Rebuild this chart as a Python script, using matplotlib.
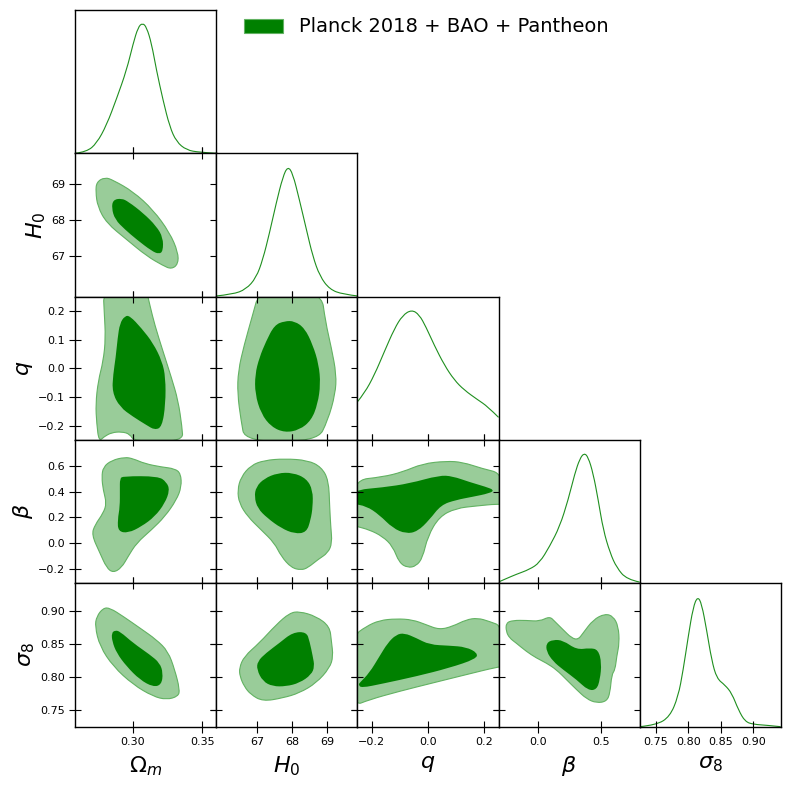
import matplotlib
matplotlib.use("Agg")
import matplotlib.pyplot as plt
from matplotlib.patches import Patch, PathPatch
from matplotlib.path import Path
from matplotlib.ticker import FuncFormatter

# ---------------- parameters ----------------
PARAM_LABELS = [r"$\Omega_m$", r"$H_0$", r"$q$", r"$\beta$", r"$\sigma_8$"]
PARAM_RANGES = [(0.259, 0.360), (65.85, 69.86), (-0.25, 0.25), (-0.316, 0.805), (0.7255, 0.942)]
X_TICKS = [[0.30, 0.35], [67, 68, 69], [-0.2, 0.0, 0.2], [0.0, 0.5], [0.75, 0.80, 0.85, 0.90]]
Y_TICKS = [[], [67, 68, 69], [-0.2, -0.1, 0.0, 0.1, 0.2], [-0.2, 0.0, 0.2, 0.4, 0.6],
           [0.75, 0.80, 0.85, 0.90]]
TICK_FMT = ["{:.2f}", "{:.0f}", "{:.1f}", "{:.1f}", "{:.2f}"]
LEGEND_LABEL = "Planck 2018 + BAO + Pantheon"

# ---------------- 1D marginals (value, normalised density) ----------------
OM_X = [0.259, 0.2672, 0.2743, 0.2814, 0.2886, 0.2957, 0.3004, 0.3040, 0.3071, 0.3100,
        0.3136, 0.3171, 0.3218, 0.3266, 0.3314, 0.3386, 0.3480, 0.360]
OM_P = [0.0, 0.012, 0.077, 0.217, 0.421, 0.638, 0.842, 0.969, 1.0, 0.969,
        0.842, 0.638, 0.408, 0.204, 0.089, 0.025, 0.008, 0.0]

H0_X = [65.83, 66.31, 66.69, 66.98, 67.17, 67.36, 67.55, 67.74, 67.88, 68.02,
        68.21, 68.41, 68.59, 68.79, 69.07, 69.45, 69.88]
H0_P = [0.005, 0.018, 0.056, 0.145, 0.285, 0.489, 0.718, 0.921, 1.0, 0.947,
        0.743, 0.514, 0.310, 0.157, 0.056, 0.018, 0.005]

Q_X = [-0.251, -0.225, -0.190, -0.155, -0.119, -0.090, -0.058, -0.031, -0.007, 0.022,
       0.058, 0.093, 0.128, 0.176, 0.211, 0.250]
Q_P = [0.291, 0.360, 0.499, 0.677, 0.855, 0.957, 1.0, 0.962, 0.867, 0.728,
       0.575, 0.461, 0.384, 0.309, 0.258, 0.174]

BETA_X = [-0.317, -0.256, -0.176, -0.070, 0.010, 0.090, 0.170, 0.237, 0.290, 0.330,
          0.364, 0.396, 0.436, 0.476, 0.516, 0.570, 0.623, 0.703, 0.805]
BETA_P = [0.010, 0.036, 0.069, 0.107, 0.158, 0.284, 0.436, 0.640, 0.843, 0.957,
          1.0, 0.970, 0.843, 0.640, 0.411, 0.234, 0.120, 0.030, 0.010]

S8_X = [0.7255, 0.7512, 0.7718, 0.7846, 0.7923, 0.8000, 0.8077, 0.8145, 0.8207, 0.8284,
        0.8361, 0.8439, 0.8566, 0.8670, 0.8772, 0.8875, 0.9003, 0.9210, 0.9420]
S8_P = [0.0, 0.013, 0.077, 0.230, 0.434, 0.689, 0.918, 1.0, 0.944, 0.740,
        0.510, 0.370, 0.319, 0.256, 0.128, 0.038, 0.018, 0.011, 0.0]

MARGINALS = [(OM_X, OM_P), (H0_X, H0_P), (Q_X, Q_P), (BETA_X, BETA_P), (S8_X, S8_P)]

# ---------------- 2D contours (95% outer, 68% inner) ----------------
OM_H0_95 = [(0.2743, 69.06), (0.2802, 69.19), (0.2861, 69.11), (0.3004, 68.79), (0.3147, 68.28),
            (0.3266, 67.64), (0.3326, 67.09), (0.3326, 66.76), (0.3278, 66.62), (0.3218, 66.72),
            (0.3100, 66.99), (0.2957, 67.45), (0.2814, 67.91), (0.2750, 68.37), (0.2736, 68.79)]
OM_H0_68 = [(0.2861, 68.56), (0.2921, 68.60), (0.2969, 68.51), (0.3076, 68.19), (0.3171, 67.82),
            (0.3218, 67.50), (0.3218, 67.13), (0.3190, 67.04), (0.3136, 67.13), (0.3029, 67.45),
            (0.2945, 67.73), (0.2874, 68.01), (0.2850, 68.33)]

OM_Q_95 = [(0.2790, 0.271), (0.2797, 0.197), (0.2807, 0.105), (0.2790, 0.025), (0.2754, -0.044),
           (0.2736, -0.124), (0.2743, -0.192), (0.2759, -0.255), (0.2797, -0.238), (0.2850, -0.224),
           (0.2921, -0.221), (0.2981, -0.229), (0.3011, -0.255), (0.3361, -0.255), (0.3354, -0.204),
           (0.3326, -0.112), (0.3278, -0.032), (0.3218, 0.059), (0.3159, 0.151), (0.3124, 0.220),
           (0.3100, 0.271)]
OM_Q_68 = [(0.2909, 0.157), (0.2945, 0.183), (0.2981, 0.183), (0.3064, 0.140), (0.3147, 0.088),
           (0.3211, 0.025), (0.3236, -0.032), (0.3236, -0.124), (0.3211, -0.204), (0.3159, -0.215),
           (0.3100, -0.198), (0.3004, -0.169), (0.2909, -0.135), (0.2854, -0.083), (0.2861, -0.021),
           (0.2879, 0.037), (0.2893, 0.105)]

H0_Q_95 = [(67.07, 0.271), (66.88, 0.186), (66.64, 0.082), (66.47, -0.009), (66.45, -0.089),
           (66.55, -0.181), (66.66, -0.255), (68.72, -0.255), (69.02, -0.181), (69.23, -0.089),
           (69.26, -0.021), (69.12, 0.071), (68.95, 0.163), (68.83, 0.271)]
H0_Q_68 = [(67.50, 0.151), (67.79, 0.165), (68.07, 0.165), (68.36, 0.140), (68.59, 0.082),
           (68.76, 0.014), (68.81, -0.055), (68.73, -0.124), (68.55, -0.181), (68.21, -0.215),
           (67.79, -0.224), (67.41, -0.204), (67.12, -0.158), (66.95, -0.089), (66.95, -0.021),
           (67.07, 0.037), (67.26, 0.094)]

OM_BETA_95 = [(0.2790, 0.594), (0.2850, 0.646), (0.2945, 0.671), (0.3004, 0.659), (0.3088, 0.620),
              (0.3207, 0.594), (0.3302, 0.581), (0.3345, 0.543), (0.3350, 0.439), (0.3314, 0.336),
              (0.3231, 0.206), (0.3136, 0.103), (0.3029, 0.000), (0.2969, -0.104), (0.2921, -0.194),
              (0.2861, -0.233), (0.2814, -0.194), (0.2766, -0.078), (0.2707, 0.064), (0.2731, 0.142),
              (0.2790, 0.233), (0.2814, 0.310), (0.2790, 0.413), (0.2779, 0.516)]
OM_BETA_68 = [(0.2909, 0.504), (0.2933, 0.522), (0.3183, 0.522), (0.3243, 0.477), (0.3266, 0.413),
              (0.3231, 0.310), (0.3159, 0.206), (0.3064, 0.129), (0.2969, 0.078), (0.2897, 0.090),
              (0.2893, 0.181), (0.2909, 0.284), (0.2909, 0.413)]

H0_BETA_95 = [(66.45, 0.413), (66.55, 0.516), (66.83, 0.607), (67.21, 0.646), (67.79, 0.659),
              (68.45, 0.646), (68.83, 0.594), (69.04, 0.491), (69.07, 0.284), (69.10, 0.129),
              (69.14, 0.000), (69.02, -0.078), (68.74, -0.129), (68.45, -0.194), (68.26, -0.212),
              (67.98, -0.194), (67.69, -0.104), (67.50, 0.000), (67.12, 0.103), (66.74, 0.206),
              (66.50, 0.310)]
H0_BETA_68 = [(66.98, 0.439), (67.21, 0.504), (67.59, 0.547), (68.02, 0.550), (68.41, 0.504),
              (68.59, 0.413), (68.59, 0.284), (68.53, 0.181), (68.41, 0.082), (68.07, 0.072),
              (67.69, 0.116), (67.30, 0.194), (67.02, 0.271), (66.93, 0.361)]

Q_BETA_95 = [(-0.267, 0.491), (-0.161, 0.516), (-0.090, 0.555), (-0.019, 0.620), (0.064, 0.640),
             (0.122, 0.632), (0.193, 0.581), (0.264, 0.543), (0.264, 0.297), (0.246, 0.305),
             (0.170, 0.289), (0.099, 0.271), (0.040, 0.206), (-0.001, 0.051), (-0.019, -0.116),
             (-0.042, -0.181), (-0.072, -0.194), (-0.102, -0.155), (-0.125, -0.026), (-0.161, 0.051),
             (-0.208, 0.103), (-0.253, 0.129), (-0.267, 0.142)]
Q_BETA_68 = [(-0.267, 0.413), (-0.161, 0.434), (-0.066, 0.465), (0.040, 0.529), (0.087, 0.522),
             (0.146, 0.477), (0.205, 0.439), (0.235, 0.413), (0.217, 0.388), (0.158, 0.361),
             (0.099, 0.336), (0.046, 0.297), (0.005, 0.181), (-0.037, 0.090), (-0.078, 0.072),
             (-0.125, 0.116), (-0.172, 0.219), (-0.219, 0.289), (-0.267, 0.305)]

OM_S8_95 = [(0.2743, 0.8921), (0.2790, 0.9048), (0.2838, 0.9048), (0.2933, 0.8921), (0.3052, 0.8746),
            (0.3171, 0.8569), (0.3254, 0.8393), (0.3302, 0.8116), (0.3338, 0.7814), (0.3326, 0.7713),
            (0.3243, 0.7663), (0.3147, 0.7713), (0.3004, 0.7890), (0.2861, 0.8166), (0.2766, 0.8468),
            (0.2731, 0.8770)]
OM_S8_68 = [(0.2850, 0.8670), (0.2874, 0.8710), (0.2909, 0.8695), (0.3004, 0.8519), (0.3124, 0.8343),
            (0.3195, 0.8217), (0.3218, 0.8066), (0.3207, 0.7890), (0.3147, 0.7855), (0.3052, 0.7965),
            (0.2957, 0.8166), (0.2886, 0.8368), (0.2854, 0.8544)]

H0_S8_95 = [(66.50, 0.8142), (66.64, 0.8317), (67.07, 0.8519), (67.55, 0.8796), (67.93, 0.8972),
            (68.21, 0.8997), (68.69, 0.8921), (69.07, 0.8770), (69.12, 0.8544), (69.17, 0.8317),
            (69.07, 0.8142), (68.69, 0.7915), (68.21, 0.7764), (67.74, 0.7689), (67.17, 0.7638),
            (66.83, 0.7739), (66.64, 0.7864), (66.52, 0.8015)]
H0_S8_68 = [(67.02, 0.8242), (67.26, 0.8368), (67.64, 0.8519), (68.02, 0.8680), (68.41, 0.8686),
            (68.50, 0.8544), (68.59, 0.8317), (68.64, 0.8166), (68.55, 0.8041), (68.21, 0.7915),
            (67.83, 0.7864), (67.45, 0.7864), (67.17, 0.7940), (67.00, 0.8116)]

Q_S8_95 = [(-0.267, 0.8620), (-0.219, 0.8770), (-0.172, 0.8861), (-0.113, 0.8886), (-0.055, 0.8871),
           (-0.007, 0.8796), (0.040, 0.8720), (0.087, 0.8770), (0.135, 0.8871), (0.176, 0.8897),
           (0.217, 0.8846), (0.264, 0.8770), (0.264, 0.8157), (0.246, 0.8157), (0.135, 0.8041),
           (0.016, 0.7915), (-0.102, 0.7789), (-0.208, 0.7663), (-0.267, 0.7562)]
Q_S8_68 = [(-0.243, 0.7915), (-0.208, 0.8066), (-0.172, 0.8317), (-0.143, 0.8519), (-0.113, 0.8645),
           (-0.084, 0.8670), (-0.042, 0.8595), (0.005, 0.8494), (0.075, 0.8479), (0.135, 0.8459),
           (0.176, 0.8368), (0.170, 0.8278), (0.075, 0.8142), (-0.042, 0.8015), (-0.161, 0.7905),
           (-0.237, 0.7840), (-0.246, 0.7890)]

BETA_S8_95 = [(-0.256, 0.8822), (-0.203, 0.8861), (-0.096, 0.8861), (0.010, 0.8846), (0.090, 0.8921),
              (0.130, 0.8846), (0.197, 0.8720), (0.264, 0.8595), (0.316, 0.8569), (0.356, 0.8670),
              (0.436, 0.8871), (0.530, 0.8962), (0.596, 0.8921), (0.636, 0.8770), (0.644, 0.8519),
              (0.623, 0.8317), (0.610, 0.8116), (0.583, 0.8041), (0.570, 0.7764), (0.543, 0.7638),
              (0.463, 0.7613), (0.384, 0.7674), (0.304, 0.7814), (0.224, 0.7965), (0.144, 0.8116),
              (0.064, 0.8217), (-0.016, 0.8293), (-0.096, 0.8393), (-0.176, 0.8519), (-0.229, 0.8595),
              (-0.256, 0.8695)]
BETA_S8_68 = [(0.064, 0.8519), (0.117, 0.8569), (0.197, 0.8559), (0.304, 0.8418), (0.410, 0.8444),
              (0.476, 0.8418), (0.503, 0.8217), (0.490, 0.7965), (0.463, 0.7814), (0.396, 0.7804),
              (0.304, 0.7965), (0.197, 0.8116), (0.117, 0.8242), (0.064, 0.8393)]

CONTOURS = {
    (1, 0): (OM_H0_95, OM_H0_68),
    (2, 0): (OM_Q_95, OM_Q_68), (2, 1): (H0_Q_95, H0_Q_68),
    (3, 0): (OM_BETA_95, OM_BETA_68), (3, 1): (H0_BETA_95, H0_BETA_68), (3, 2): (Q_BETA_95, Q_BETA_68),
    (4, 0): (OM_S8_95, OM_S8_68), (4, 1): (H0_S8_95, H0_S8_68), (4, 2): (Q_S8_95, Q_S8_68),
    (4, 3): (BETA_S8_95, BETA_S8_68),
}

# ---------------- styling ----------------
DARK = "#008000"
LIGHT = "#99cc99"
EDGE = "#62b262"
LINE = "#1f8f1f"


def _mid(a, b):
    return ((a[0] + b[0]) / 2.0, (a[1] + b[1]) / 2.0)


def smooth_closed_path(pts):
    """Closed quadratic-Bezier path using the read points as control points."""
    m = len(pts)
    verts = [_mid(pts[-1], pts[0])]
    codes = [Path.MOVETO]
    for k in range(m):
        verts += [pts[k], _mid(pts[k], pts[(k + 1) % m])]
        codes += [Path.CURVE3, Path.CURVE3]
    verts.append(verts[0])
    codes.append(Path.CLOSEPOLY)
    return Path(verts, codes)


def smooth_open_path(xs, ys):
    pts = list(zip(xs, ys))
    verts = [pts[0]]
    codes = [Path.MOVETO]
    for k in range(1, len(pts) - 1):
        end = pts[-1] if k == len(pts) - 2 else _mid(pts[k], pts[k + 1])
        verts += [pts[k], end]
        codes += [Path.CURVE3, Path.CURVE3]
    return Path(verts, codes)


fig = plt.figure(figsize=(7.9, 7.9), dpi=100)
gs = fig.add_gridspec(5, 5, left=0.09532, right=0.98823, bottom=0.08013, top=0.98734,
                      wspace=0, hspace=0)
n = 5


def fmt_for(k):
    f = TICK_FMT[k]
    return FuncFormatter(lambda v, pos: f.format(v).replace("-", "\u2212"))


for i in range(n):
    for j in range(i + 1):
        ax = fig.add_subplot(gs[i, j])
        ax.set_xlim(*PARAM_RANGES[j])
        ax.set_xticks(X_TICKS[j])
        ax.xaxis.set_major_formatter(fmt_for(j))
        if i == j:
            xs, ps = MARGINALS[i]
            ax.add_patch(PathPatch(smooth_open_path(xs, ps), facecolor="none",
                                   edgecolor=LINE, lw=0.8))
            ax.set_ylim(0, 1.1)
            ax.set_yticks([])
            ax.tick_params(axis="x", direction="inout", length=8, width=0.8,
                           top=False, bottom=True, labelsize=8)
        else:
            outer, inner = CONTOURS[(i, j)]
            ax.add_patch(PathPatch(smooth_closed_path(outer), facecolor=LIGHT,
                                   edgecolor=EDGE, lw=0.8))
            ax.add_patch(PathPatch(smooth_closed_path(inner), facecolor=DARK,
                                   edgecolor="none", lw=0))
            ax.set_ylim(*PARAM_RANGES[i])
            ax.set_yticks(Y_TICKS[i])
            ax.yaxis.set_major_formatter(fmt_for(i))
            ax.tick_params(axis="both", direction="inout", length=8, width=0.8,
                           top=True, bottom=True, left=True, right=True, labelsize=8)
        if i < n - 1:
            ax.tick_params(axis="x", labelbottom=False)
        else:
            ax.set_xlabel(PARAM_LABELS[j], fontsize=16, labelpad=5)
        if j == 0 and i > 0:
            ax.set_ylabel(PARAM_LABELS[i], fontsize=16, labelpad=2)
        elif i != j:
            ax.tick_params(axis="y", labelleft=False)
        for s in ax.spines.values():
            s.set_linewidth(1.0)

handle = Patch(facecolor=DARK, edgecolor=EDGE, lw=0.8)
fig.legend([handle], [LEGEND_LABEL], loc="upper left", frameon=False, fontsize=14,
           bbox_to_anchor=(227 / 790, 1.0), handlelength=2.0, handleheight=0.75,
           handletextpad=0.8)

fig.savefig("out.png", dpi=100)
